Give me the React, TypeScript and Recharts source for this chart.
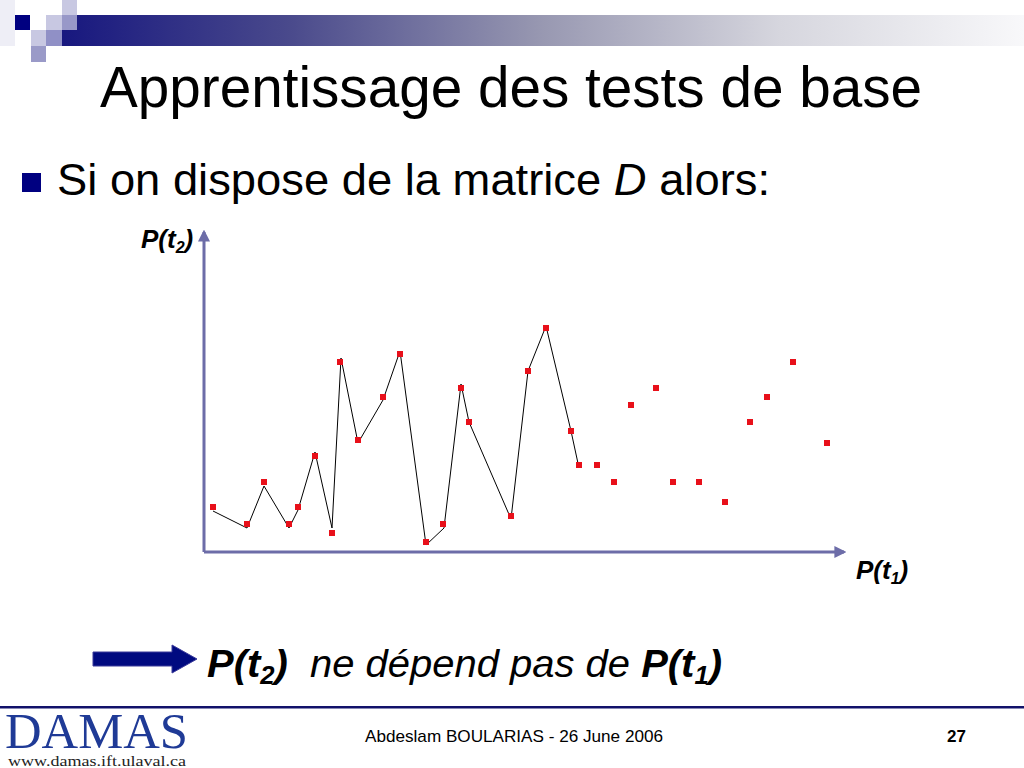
import React from 'react';
import { ComposedChart, Scatter, XAxis, YAxis } from 'recharts';

// red sample points (P(t1), P(t2))
const pointX = [9, 43, 60, 85, 94, 111, 128, 136, 154, 179, 196, 222, 239, 257, 265, 307, 324, 342, 367, 375, 393, 410, 427, 452, 469, 495, 521, 546, 563, 589, 623];
const pointY = [45, 28, 70, 28, 45, 96, 19, 190, 112, 155, 198, 10, 28, 164, 130, 36, 181, 224, 121, 87, 87, 70, 147, 164, 70, 70, 50, 130, 155, 190, 109];

// black polyline through the first part of the sequence
const lineX = [9, 43, 60, 85, 94, 111, 128, 137, 154, 179, 196, 222, 240, 257, 265, 307, 324, 342, 367, 375];
const lineY = [41, 24, 66, 24, 42, 100, 24, 194, 109, 152, 201, 7, 24, 168, 130, 33, 181, 226, 121, 84];

const xDomain = [0, 640];
const yDomain = [0, 320];

const points = pointX.map((x, i) => ({ x, y: pointY[i] }));
const linePts = lineX.map((x, i) => ({ x, y: lineY[i] }));

const AXIS = '#6d6da8';
const NAVY = '#000080';
const SANS = '"Liberation Sans", Arial, sans-serif';
const SERIF = '"Liberation Serif", "Times New Roman", serif';

const RedSquare = (props: any) => (
  <rect x={props.cx - 3} y={props.cy - 3} width={6} height={6} fill="#e8101a" />
);

const Slide = () => (
  <svg width={1024} height={768} style={{ position: 'absolute', left: 0, top: 0 }}>
    <defs>
      <linearGradient id="band" x1="0" x2="1" y1="0" y2="0">
        <stop offset="0" stopColor="#14147e" />
        <stop offset="0.25" stopColor="#4a4a8c" />
        <stop offset="0.5" stopColor="#9696b0" />
        <stop offset="0.75" stopColor="#d6d6de" />
        <stop offset="1" stopColor="#f8f8fa" />
      </linearGradient>
      <marker id="arrowHead" viewBox="0 0 10 10" refX="8" refY="5" markerWidth="4" markerHeight="4" orient="auto-start-reverse">
        <path d="M0,0 L10,5 L0,10 z" fill={AXIS} />
      </marker>
    </defs>
    {/* header band */}
    <rect x={46} y={15} width={978} height={31} fill="url(#band)" />
    <rect x={0} y={0} width={15} height={46} fill="#eeeef6" />
    <rect x={15} y={15} width={15} height={15} fill={NAVY} />
    <rect x={62} y={0} width={15} height={15} fill="#c8c8e2" />
    <rect x={46} y={15} width={16} height={15} fill="#c8c8e2" />
    <rect x={62} y={15} width={15} height={15} fill="#9898c8" />
    <rect x={31} y={30} width={15} height={16} fill="#c8c8e2" />
    <rect x={46} y={30} width={16} height={16} fill="#9090c6" />
    <rect x={31} y={46} width={15} height={16} fill="#9a9ac8" />

    <text x={100} y={107} fontFamily={SANS} fontSize={58} textLength={822} lengthAdjust="spacingAndGlyphs" fill="#000">
      Apprentissage des tests de base
    </text>

    <rect x={22} y={173} width={19} height={19} fill={NAVY} />
    <text x={57} y={195} fontFamily={SANS} fontSize={45} textLength={713} lengthAdjust="spacingAndGlyphs" fill="#000">
      Si on dispose de la matrice <tspan fontStyle="italic">D</tspan> alors:
    </text>

    <text x={141} y={248} fontFamily={SANS} fontSize={26} fontWeight="bold" fontStyle="italic" fill="#000">
      P(t<tspan fontSize={16} dy={5}>2</tspan><tspan dy={-5}>)</tspan>
    </text>
    <text x={856} y={579} fontFamily={SANS} fontSize={26} fontWeight="bold" fontStyle="italic" fill="#000">
      P(t<tspan fontSize={16} dy={5}>1</tspan><tspan dy={-5}>)</tspan>
    </text>

    {/* conclusion arrow */}
    <polygon points="93,652 172,652 172,645 197,659 172,673 172,666 93,666" fill="#000a80" stroke="#3a3a9a" strokeWidth={1} />
    <text x={207} y={677} fontFamily={SANS} fontSize={39} fontStyle="italic" textLength={515} lengthAdjust="spacingAndGlyphs" fill="#000">
      <tspan fontWeight="bold">P(t</tspan><tspan fontWeight="bold" fontSize={25} dy={7}>2</tspan><tspan fontWeight="bold" dy={-7}>)</tspan>
      {'\u00a0 ne dépend pas de '}
      <tspan fontWeight="bold">P(t</tspan><tspan fontWeight="bold" fontSize={25} dy={7}>1</tspan><tspan fontWeight="bold" dy={-7}>)</tspan>
    </text>

    {/* footer */}
    <rect x={0} y={706} width={1024} height={2.5} fill="#12126a" />
    <text x={5} y={748} fontFamily={SERIF} fontSize={50} textLength={183} lengthAdjust="spacingAndGlyphs" fill="#1f3a96">
      DAMAS
    </text>
    <text x={8} y={766} fontFamily={SERIF} fontSize={14} textLength={178} lengthAdjust="spacingAndGlyphs" fill="#222">
      www.damas.ift.ulaval.ca
    </text>
    <text x={365} y={742} fontFamily={SANS} fontSize={17} textLength={298} lengthAdjust="spacingAndGlyphs" fill="#000">
      Abdeslam BOULARIAS - 26 June 2006
    </text>
    <text x={947} y={742} fontFamily={SANS} fontSize={17} fontWeight="bold" fill="#000">
      27
    </text>
  </svg>
);

export default function App() {
  return (
    <div style={{ position: 'absolute', left: 0, top: 0, width: 1024, height: 768, background: '#fff', overflow: 'hidden' }}>
      <Slide />
      <div style={{ position: 'absolute', left: 184, top: 212 }}>
        <ComposedChart width={700} height={360} margin={{ top: 20, right: 40, bottom: 19, left: 19 }}>
          <XAxis
            type="number"
            dataKey="x"
            domain={xDomain}
            height={1}
            tick={false}
            tickLine={false}
            axisLine={{ stroke: AXIS, strokeWidth: 3, markerEnd: 'url(#arrowHead)' }}
          />
          <YAxis
            type="number"
            dataKey="y"
            domain={yDomain}
            width={1}
            tick={false}
            tickLine={false}
            axisLine={{ stroke: AXIS, strokeWidth: 3, markerStart: 'url(#arrowHead)' }}
          />
          <Scatter
            data={linePts}
            line={{ stroke: '#000', strokeWidth: 1 }}
            lineType="joint"
            shape={() => <g />}
            isAnimationActive={false}
          />
          <Scatter data={points} shape={RedSquare} isAnimationActive={false} />
        </ComposedChart>
      </div>
    </div>
  );
}
